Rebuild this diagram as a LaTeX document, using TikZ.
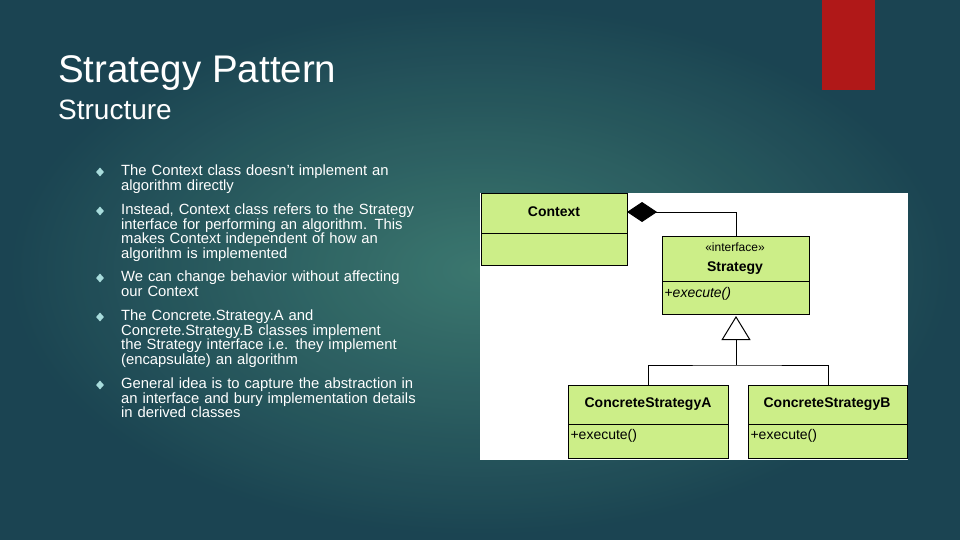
\documentclass[tikz,border=0pt]{standalone}
\usepackage{fontspec}
\setmainfont{Liberation Sans}
\usetikzlibrary{positioning,shapes.geometric,arrows.meta}
\definecolor{bgdark}{HTML}{1B4452}
\definecolor{bglight}{HTML}{3F7D72}
\definecolor{umlgreen}{HTML}{CCEE88}
\definecolor{redbar}{HTML}{B01818}
\definecolor{bulletc}{HTML}{A8DCDC}
\tikzset{
  cls/.style={draw=black,fill=umlgreen,line width=1pt,anchor=north west,inner sep=0pt},
  bul/.style={anchor=north west,text width=300pt,align=left,text=white,inner sep=0pt,
    font=\fontsize{14.8}{14.5}\selectfont},
  dia/.style={diamond,fill=bulletc,inner sep=0pt,minimum width=8pt,minimum height=9pt},
  lbl/.style={font=\fontsize{14}{16}\selectfont\bfseries},
  op/.style={font=\fontsize{14}{16}\selectfont,anchor=west}
}
\begin{document}
\hyphenpenalty=10000
\exhyphenpenalty=10000
\begin{tikzpicture}[x=1pt,y=-1pt]
% background
\fill[bgdark] (0,0) rectangle (960,540);
\shade[inner color=bglight,outer color=bgdark,opacity=0.9] (0,0) rectangle (960,540);
\useasboundingbox (0,0) rectangle (960,540);
\fill[redbar] (822,0) rectangle (875,90);

% titles
\node[anchor=west,text=white,font=\fontsize{38.5}{42}\selectfont,inner sep=0pt] (title) at (58,73) {Strategy Pattern};
\node[anchor=west,text=white,font=\fontsize{28}{32}\selectfont,inner sep=0pt] (sub) at (58,110) {Structure};

% bullets
\foreach \y/\t [count=\i] in {
  165/{The Context class doesn't implement an algorithm directly},
  204/{Instead, Context class refers to the Strategy interface for performing an algorithm. This makes Context independent of how an algorithm is implemented},
  271/{We can change behavior without affecting our Context},
  310/{The Concrete.Strategy.A and Concrete.Strategy.B classes implement the Strategy interface i.e. they implement (encapsulate) an algorithm},
  378/{General idea is to capture the abstraction in an interface and bury implementation details in derived classes}}{
  \node[dia] (d\i) at (100,\y+7) {};
  \node[bul] (b\i) at (121,\y) {\t};
}

% diagram panel
\fill[white] (480,193) rectangle (908,460);
\draw[cls] (481,193) rectangle (627,265);
\draw[line width=1pt] (481,233) -- (627,233);
\node[lbl] (ctx) at (554,212) {Context};

\draw[cls] (662,236) rectangle (809,314);
\draw[line width=1pt] (662,281) -- (809,281);
\node[font=\fontsize{12}{14}\selectfont] (stereo) at (735,247) {«interface»};
\node[lbl] (strat) at (735,268) {Strategy};
\node[op] (sop) at (661,294) {+\textit{execute()}};

\draw[cls] (568,385) rectangle (728,458);
\draw[line width=1pt] (568,424) -- (728,424);
\node[lbl] (ca) at (648,404) {ConcreteStrategyA};
\node[op] (aop) at (567,436) {+execute()};

\draw[cls] (748,385) rectangle (907,458);
\draw[line width=1pt] (748,424) -- (907,424);
\node[lbl] (cb) at (827,404) {ConcreteStrategyB};
\node[op] (bop) at (747,436) {+execute()};

% connectors
\coordinate (ctxE) at (627,212);
\coordinate (strN) at (736,236);
\coordinate (strS) at (736,316);
\coordinate (fork) at (736,365);
\coordinate (caN) at (648,385);
\coordinate (cbN) at (828,385);
\draw[line width=1pt,{Diamond[length=30pt,width=20pt]}-] (ctxE) -| (strN);
\draw[line width=1pt,-{Triangle[open,length=24pt,width=29pt]}] (fork) -- (strS);
\draw[line width=1pt] (caN) |- (fork) -| (cbN);
\end{tikzpicture}
\end{document}
